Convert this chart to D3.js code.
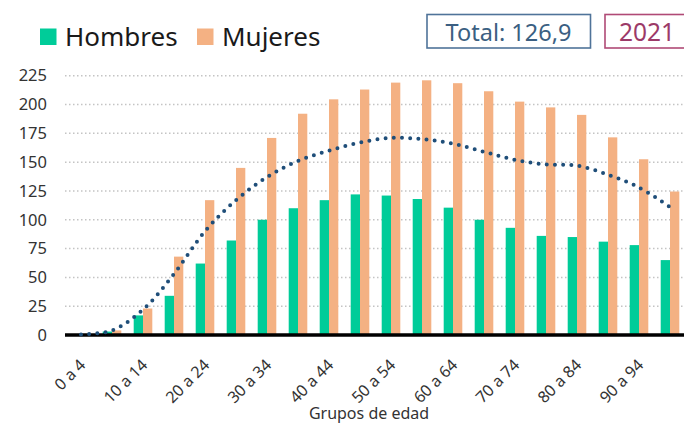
<!DOCTYPE html>
<html>
<head>
<meta charset="utf-8">
<script src="https://cdn.jsdelivr.net/npm/d3@7"></script>
<style>
  body { margin: 0; background: #fff; }
  svg { display: block; font-family: "Noto Sans", sans-serif; }
</style>
</head>
<body>
<div id="chart"></div>
<script>
var grupos = ["0 a 4", "5 a 9", "10 a 14", "15 a 19", "20 a 24", "25 a 29", "30 a 34", "35 a 39",
              "40 a 44", "45 a 49", "50 a 54", "55 a 59", "60 a 64", "65 a 69", "70 a 74", "75 a 79",
              "80 a 84", "85 a 89", "90 a 94", "95 a 99"];
var hombres = [0.3, 3, 17, 34, 62, 82, 100, 110, 117, 122, 121, 118, 110.5, 100, 93, 86, 85, 81, 78, 65];
var mujeres = [0.5, 4, 23, 68, 117, 145, 171, 192, 204.5, 213, 219, 221, 218.5, 211.5, 202.5, 197.5, 191, 171.5, 152.5, 124.5];
var tendencia = [0.5, 4, 22, 53, 90, 117, 137, 151, 160, 167, 171, 170, 166, 159, 152, 148, 147, 139, 128, 111];
var yTicks = [0, 25, 50, 75, 100, 125, 150, 175, 200, 225];
var totalTxt = "Total: 126,9";
var anioTxt = "2021";

var width = 684, height = 425;

var svg = d3.select("#chart").append("svg")
    .attr("width", width)
    .attr("height", height);

var x = d3.scaleBand()
    .domain(grupos)
    .range([65.5, 685.5]);
var y = d3.scaleLinear()
    .domain([0, 225])
    .range([335, 75.7]);
var bw = 9.3;

// gridlines
svg.selectAll(".grid")
    .data(yTicks.filter(function(d) { return d > 0; }))
    .enter().append("line")
        .attr("x1", 65).attr("x2", 684)
        .attr("y1", function(d) { return y(d); })
        .attr("y2", function(d) { return y(d); })
        .attr("stroke", "#c4c4c4")
        .attr("stroke-width", 1.5)
        .attr("stroke-dasharray", "1.5 2.5");

// y labels
svg.selectAll(".ylab")
    .data(yTicks)
    .enter().append("text")
        .attr("x", 47)
        .attr("y", function(d) { return y(d); })
        .attr("dy", "0.35em")
        .attr("text-anchor", "end")
        .attr("font-size", 16.5)
        .attr("fill", "#333")
        .text(function(d) { return d; });

// bars
svg.selectAll(".hom")
    .data(hombres)
    .enter().append("rect")
        .attr("x", function(d, i) { return x(grupos[i]) + x.bandwidth() / 2 - bw; })
        .attr("y", function(d) { return y(d); })
        .attr("width", bw)
        .attr("height", function(d) { return y(0) - y(d); })
        .attr("fill", "#00cc99");
svg.selectAll(".muj")
    .data(mujeres)
    .enter().append("rect")
        .attr("x", function(d, i) { return x(grupos[i]) + x.bandwidth() / 2; })
        .attr("y", function(d) { return y(d); })
        .attr("width", bw)
        .attr("height", function(d) { return y(0) - y(d); })
        .attr("fill", "#f4b183");

// axis line
svg.append("line")
    .attr("x1", 65).attr("x2", 684)
    .attr("y1", y(0)).attr("y2", y(0))
    .attr("stroke", "#000")
    .attr("stroke-width", 3.3);

// dotted trend
var linefun = d3.line()
    .x(function(d, i) { return x(grupos[i]) + x.bandwidth() / 2; })
    .y(function(d) { return y(d); })
    .curve(d3.curveCatmullRom);
svg.append("path")
    .attr("d", linefun(tendencia))
    .attr("fill", "none")
    .attr("stroke", "#1f4e79")
    .attr("stroke-width", 4)
    .attr("stroke-linecap", "round")
    .attr("stroke-dasharray", "0 8.2");

// x labels (every other group)
svg.selectAll(".xlab")
    .data(grupos.filter(function(d, i) { return i % 2 == 0; }))
    .enter().append("text")
        .attr("transform", function(d) {
            return "translate(" + (x(d) + x.bandwidth() / 2 + 5.5) + ",366) rotate(-45)";
        })
        .attr("text-anchor", "end")
        .attr("font-size", 16)
        .attr("fill", "#333")
        .text(function(d) { return d; });

svg.append("text")
    .attr("x", 369).attr("y", 419)
    .attr("text-anchor", "middle")
    .attr("font-size", 16)
    .attr("fill", "#333")
    .text("Grupos de edad");

// legend
var leg = [{"name": "Hombres", "c": "#00cc99", "x": 40}, {"name": "Mujeres", "c": "#f4b183", "x": 197}];
svg.selectAll(".legsq")
    .data(leg)
    .enter().append("rect")
        .attr("x", function(d) { return d.x; })
        .attr("y", 28.5)
        .attr("width", 16.5).attr("height", 16.5)
        .attr("fill", function(d) { return d.c; });
svg.selectAll(".legtx")
    .data(leg)
    .enter().append("text")
        .attr("x", function(d) { return d.x + 25; })
        .attr("y", 45.5)
        .attr("font-size", 26)
        .attr("fill", "#1a1a1a")
        .text(function(d) { return d.name; });

// boxes
svg.append("rect")
    .attr("x", 427).attr("y", 14.5)
    .attr("width", 163.5).attr("height", 33.5)
    .attr("fill", "#fff")
    .attr("stroke", "#4f7399")
    .attr("stroke-width", 1.6);
svg.append("text")
    .attr("x", 508.5).attr("y", 40.5)
    .attr("text-anchor", "middle")
    .attr("font-size", 23.5)
    .attr("fill", "#3b5f82")
    .text(totalTxt);
svg.append("rect")
    .attr("x", 605).attr("y", 14.5)
    .attr("width", 100).attr("height", 33.5)
    .attr("fill", "#fff")
    .attr("stroke", "#b04a76")
    .attr("stroke-width", 1.6);
svg.append("text")
    .attr("x", 619).attr("y", 40.5)
    .attr("font-size", 24.5)
    .attr("fill", "#9c3a68")
    .text(anioTxt);
</script>
</body>
</html>
